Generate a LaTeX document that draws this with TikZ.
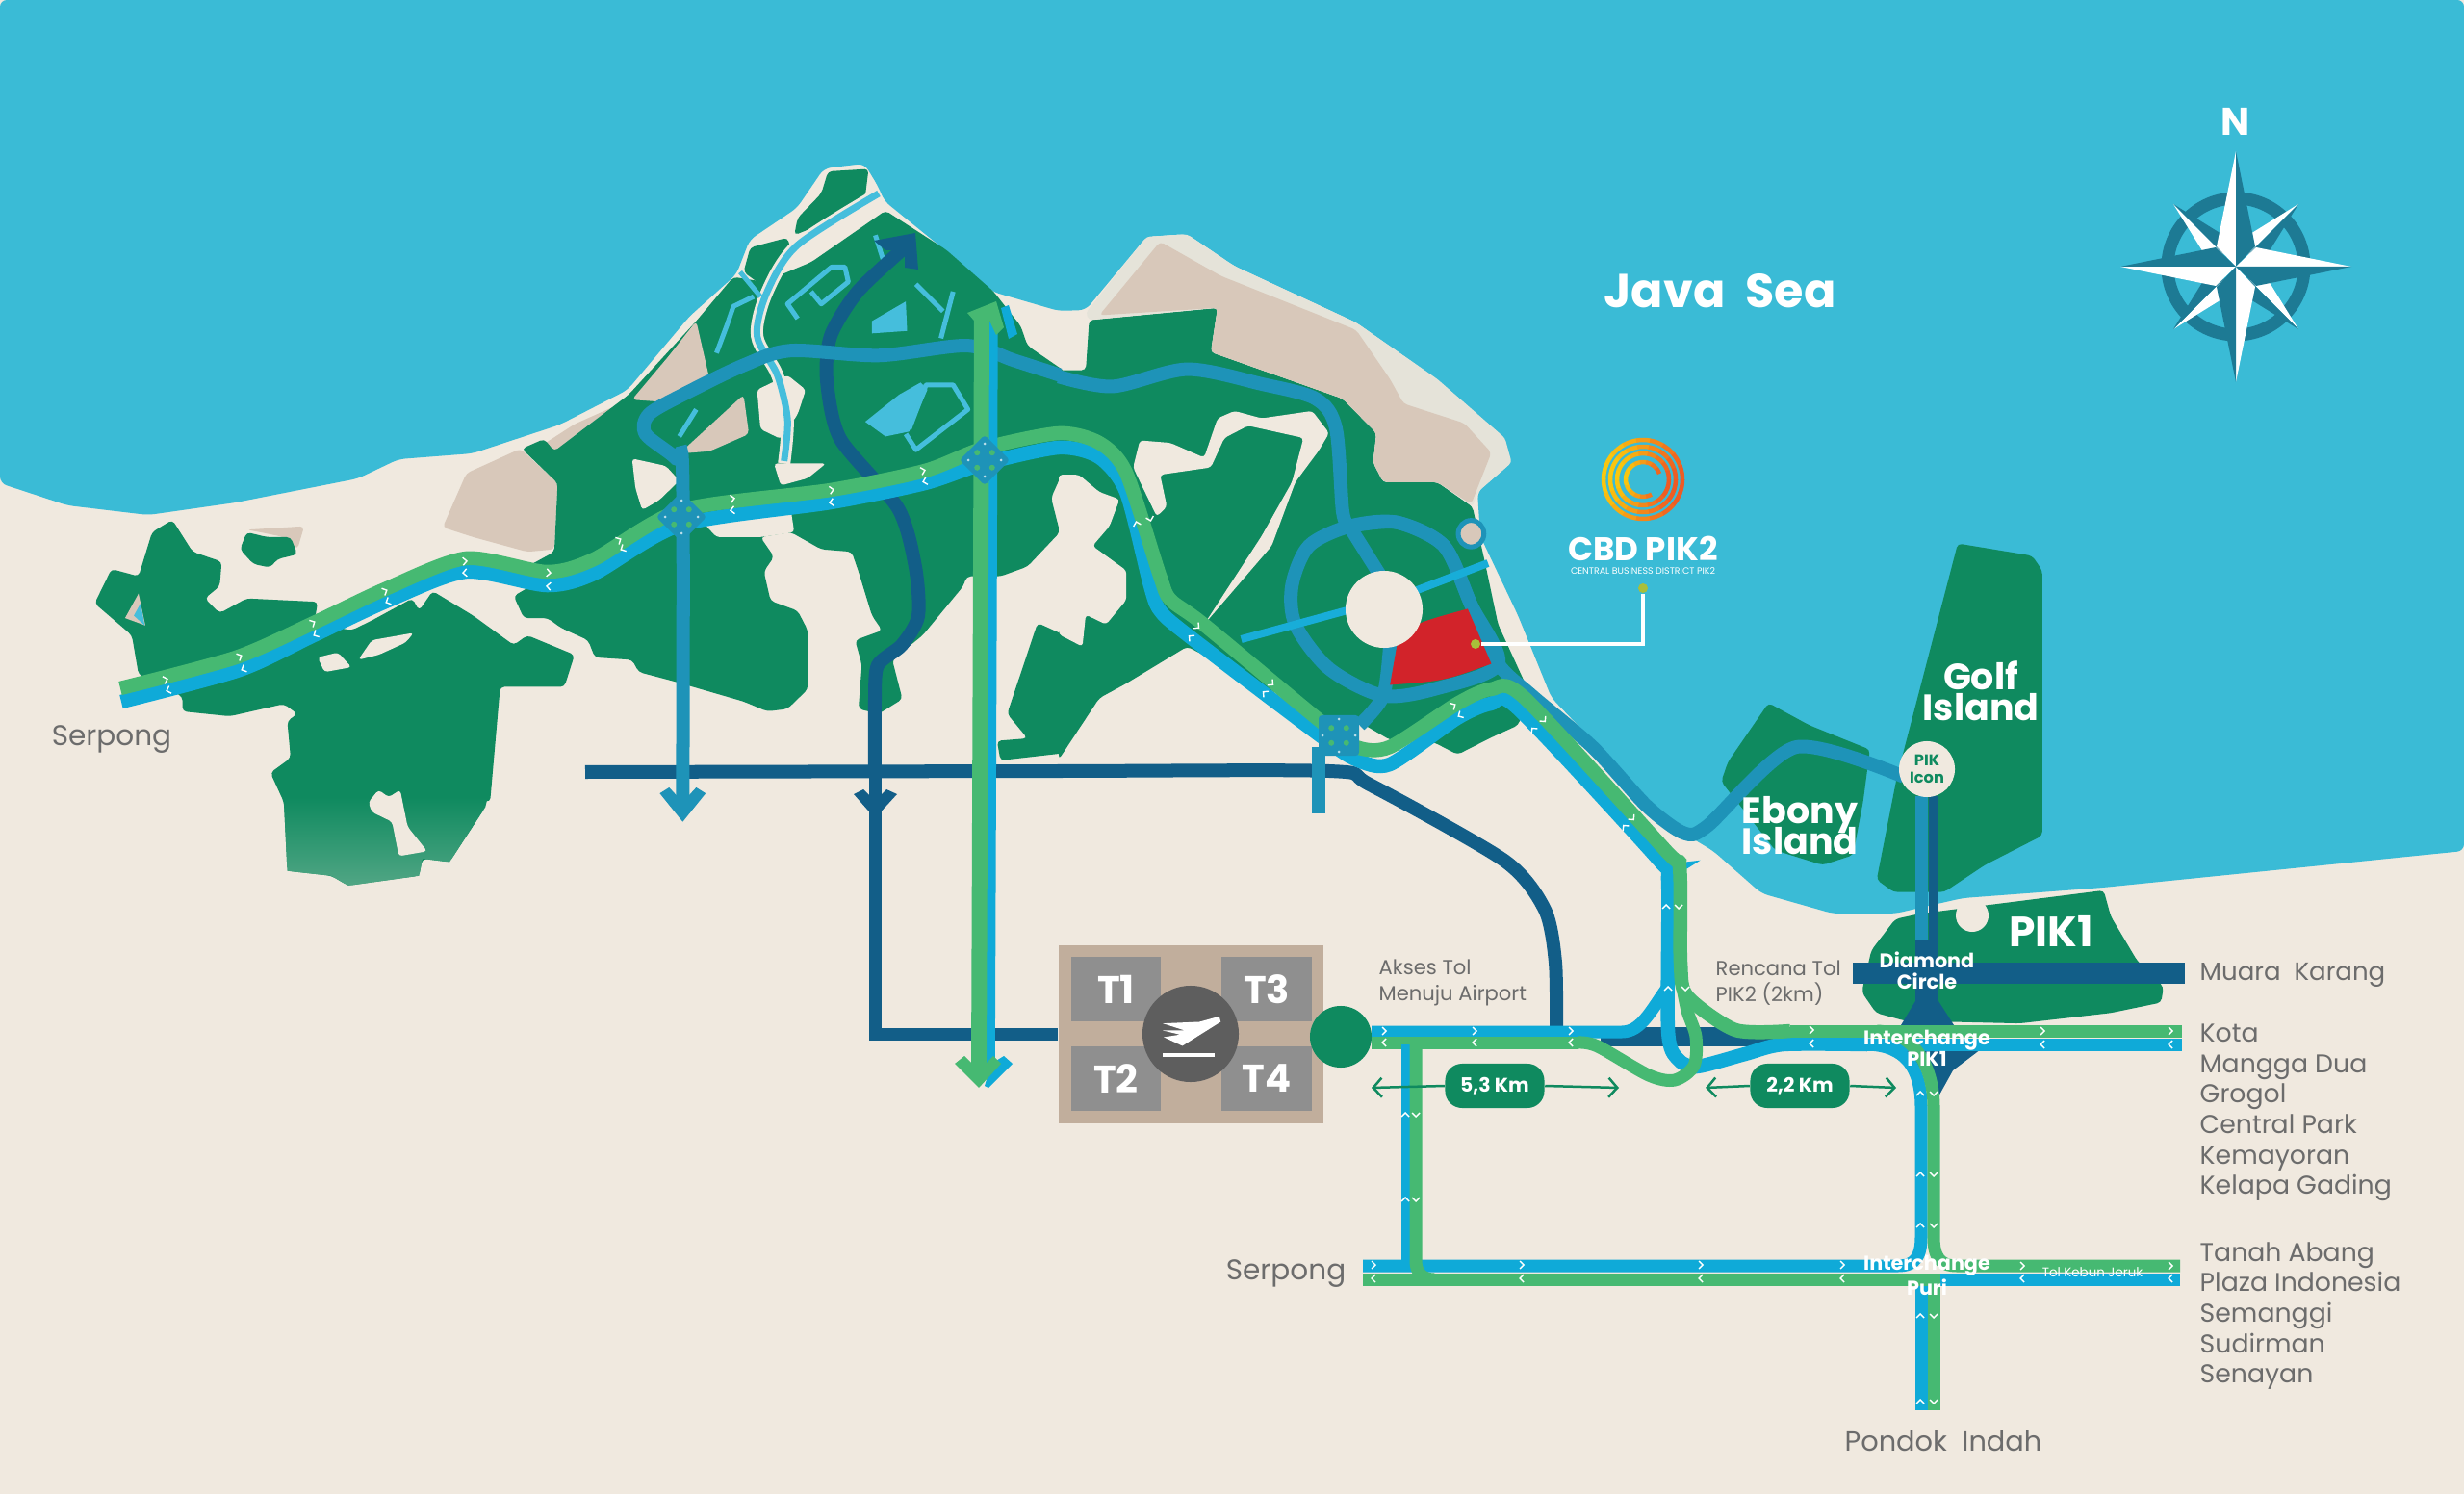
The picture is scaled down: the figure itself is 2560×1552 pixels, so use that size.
\documentclass[tikz,border=0pt]{standalone}
\usepackage{xcolor}
\usepackage{fontspec}
\setmainfont{Poppins}
\usetikzlibrary{arrows.meta}

\definecolor{seablue}{HTML}{3ABBD6}
\definecolor{sandbg}{HTML}{F0E9DF}
\definecolor{landgreen}{HTML}{0F8A5F}
\definecolor{tanland}{HTML}{D8C8BA}
\definecolor{shoreline}{HTML}{E5E3D9}
\definecolor{lanegreen}{HTML}{46B972}
\definecolor{laneblue}{HTML}{0FAAD8}
\definecolor{roadteal}{HTML}{1E93B8}
\definecolor{roadnavy}{HTML}{125E88}
\definecolor{streamblue}{HTML}{45BEDC}
\definecolor{labelgrey}{HTML}{6C6C6C}
\definecolor{boxtan}{HTML}{C1AE9C}
\definecolor{termgrey}{HTML}{8F8F8F}
\definecolor{planegrey}{HTML}{5E5E5E}
\definecolor{compassteal}{HTML}{1D7A94}
\definecolor{spotlime}{HTML}{A8BF3A}
\definecolor{plotred}{HTML}{D2232A}
\definecolor{logoorange}{HTML}{EE5A24}
\definecolor{logoyellow}{HTML}{F9C80E}

\tikzset{
  westframe/.style={shift={(0,150)},x=0.007015cm,y=-0.005102cm},
  eastframe/.style={shift={(1100,200)},x=0.007015cm,y=-0.005102cm},
  southframe/.style={shift={(1050,950)},x=0.005102cm,y=-0.003333cm},
  rightframe/.style={shift={(1780,700)},x=0.004974cm,y=-0.005422cm},
  land/.style={fill=landgreen,rounded corners=1.2pt},
  tan/.style={fill=tanland,rounded corners=1.2pt},
  sandpatch/.style={fill=sandbg,rounded corners=1pt},
  greenlane/.style={draw=lanegreen,line width=0.13cm},
  bluelane/.style={draw=laneblue,line width=0.13cm},
  tealroad/.style={draw=roadteal,line width=0.14cm},
  navyroad/.style={draw=roadnavy,line width=0.14cm},
  stream/.style={draw=streamblue,line width=0.05cm,line join=round},
  greylabel/.style={text=labelgrey,inner sep=0pt,font=\fontsize{7.6}{9}\selectfont,align=left},
  smalllabel/.style={text=labelgrey,inner sep=0pt,font=\fontsize{6}{7.7}\selectfont,align=left,anchor=west},
  whitebold/.style={text=white,inner sep=0pt,font=\bfseries\fontsize{10.8}{9.1}\selectfont,align=center},
  crosslabel/.style={text=white,inner sep=0pt,font=\bfseries\fontsize{5.9}{6.2}\selectfont,align=center},
  termbox/.style={fill=termgrey,text=white,inner sep=0pt,minimum width=0.93cm,minimum height=0.67cm,font=\bfseries\fontsize{11.4}{12}\selectfont},
  kmpill/.style={fill=landgreen,text=white,rounded corners=5pt,inner sep=0pt,minimum width=1.03cm,minimum height=0.46cm,font=\bfseries\fontsize{5.8}{7}\selectfont},
  kmarrow/.style={draw=landgreen,line width=0.025cm,-{Straight Barb[length=0.09cm,width=0.2cm]}},
  junctionbox/.style={fill=roadteal,inner sep=0pt,minimum size=0.37cm,rounded corners=1pt},
  chevron/.pic={\draw[white,line width=0.014cm] (-2,-4) -- (2,0) -- (-2,4);},
  junctiondots/.pic={\foreach \a in {0,90,180,270} {
      \fill[lanegreen] (\a+45:11) circle (3);
      \fill[white!70!roadteal] (\a:17) circle (1.5);}},
}

\begin{document}
\begin{tikzpicture}[x=0.01cm,y=-0.01cm]
\useasboundingbox (0,0) rectangle (2560,1552);
\fill[sandbg] (0,0) rectangle (2560,1552);

% sea
\fill[seablue,rounded corners=2pt] (0,0) -- (2560,0) -- (2560,884) -- (2185,922) -- (2039,933) -- (1969,949) -- (1904,949) -- (1830,928) -- (1780,884)
  -- (1745,863) -- (1612,725) -- (1577,639) -- (1538,557) -- (1535,511) -- (1570,481) -- (1563,455) -- (1493,394) -- (1409,335) -- (1282,276) -- (1233,243) -- (1191,246)
  -- (1128,322) -- (1100,323) -- (1031,303) -- (982,260) -- (919,209) -- (912,193) -- (898,170) -- (856,175) -- (828,216) -- (779,249) -- (765,285) -- (716,329)
  -- (652,405) -- (582,441) -- (491,471) -- (414,477) -- (372,497) -- (245,522) -- (154,535) -- (70,525) -- (0,502) -- cycle;

% land west of the peninsula
\begin{scope}[westframe]
\fill[land] (255,765) -- (285,830) -- (328,850) -- (325,900) -- (303,925) -- (325,955) -- (365,925) -- (470,932) -- (465,975) -- (520,990) -- (550,970) -- (610,925) -- (620,950) -- (640,910)
  -- (700,960) -- (760,1020) -- (780,1000) -- (850,1040) -- (835,1105) -- (740,1105) -- (725,1340) -- (695,1330) -- (718,1350) -- (665,1462) -- (625,1455) -- (620,1490) -- (515,1510) -- (490,1490) -- (425,1480)
  -- (420,1340) -- (400,1280) -- (430,1250) -- (425,1175) -- (440,1160) -- (420,1140) -- (340,1165) -- (270,1155) -- (270,1125) -- (205,1080) -- (195,1000) -- (140,935) -- (165,865) -- (205,880) -- (225,790) -- cycle;
\begin{scope}
\clip (420,1300) -- (420,1340) -- (425,1480) -- (490,1490) -- (515,1510) -- (620,1490) -- (625,1455) -- (665,1462) -- (718,1350) -- (727,1300) -- cycle;
\shade[top color=landgreen,bottom color=landgreen!70!sandbg] (400,1330) rectangle (740,1515);
\end{scope}
\fill[sandpatch] (470,1045) -- (500,1035) -- (520,1065) -- (480,1075) -- cycle;
\fill[sandpatch] (545,1340) -- (560,1315) -- (575,1330) -- (592,1315) -- (603,1390) -- (632,1440) -- (590,1450) -- (580,1380) -- (550,1360) -- cycle;
\fill[sandpatch] (550,1010) -- (612,995) -- (600,1015) -- (560,1040) -- (530,1050) -- cycle;
\fill[tan] (365,785) -- (450,778) -- (440,825) -- (420,800) -- (385,790) -- cycle;
\fill[land] (355,825) -- (365,790) -- (395,800) -- (430,800) -- (440,835) -- (410,845) -- (400,862) -- (375,855) -- cycle;
\fill[tanland] (185,965) -- (205,915) -- (215,980) -- cycle;
\fill[streamblue] (198,960) -- (208,935) -- (214,980) -- cycle;

% land of the peninsula, west half
\fill[tan] (655,780) -- (690,670) -- (770,620) -- (825,690) -- (820,825) -- (780,830) -- (700,800) -- cycle;
\fill[tan] (805,610) -- (850,570) -- (915,530) -- (910,560) -- (820,630) -- cycle;
\fill[land] (772,620) -- (805,600) -- (820,625) -- (930,510) -- (1030,360) -- (1085,270) -- (1130,280) -- (1200,240) -- (1310,135) -- (1400,215) -- (1470,300) -- (1510,370) -- (1520,410) -- (1575,462) -- (1575,640)
  -- (1568,680) -- (1555,720) -- (1568,790) -- (1520,860) -- (1480,880) -- (1430,880) -- (1425,900) -- (1365,1000) -- (1320,1050) -- (1335,1130) -- (1300,1160) -- (1270,1150) -- (1275,1060) -- (1265,1010) -- (1305,990)
  -- (1290,960) -- (1270,870) -- (1260,830) -- (1215,825) -- (1170,790) -- (1125,800) -- (1145,840) -- (1130,870) -- (1140,930) -- (1180,950) -- (1195,990) -- (1195,1110) -- (1165,1150) -- (1135,1155)
  -- (1100,1135) -- (1000,1095) -- (945,1075) -- (935,1050) -- (880,1045) -- (870,1010) -- (830,985) -- (810,965) -- (775,965) -- (760,920) -- (785,900) -- (780,860) -- (820,830) -- (825,690) -- cycle;
\fill[land] (1535,975) -- (1575,1000) -- (1575,1240) -- (1480,1255) -- (1475,1215) -- (1520,1210) -- (1490,1160) -- cycle;
\fill[tan] (935,520) -- (985,525) -- (1050,480) -- (1030,360) -- (990,430) -- cycle;
\fill[tan] (1005,630) -- (1100,510) -- (1108,590) -- (1050,625) -- cycle;
\fill[sandpatch] (935,640) -- (985,655) -- (1005,685) -- (975,725) -- (950,745) -- (940,700) -- cycle;
\fill[sandpatch] (1040,770) -- (1170,745) -- (1175,790) -- (1125,800) -- (1060,800) -- cycle;
\fill[sandpatch] (1145,650) -- (1222,650) -- (1195,680) -- (1155,695) -- cycle;
\fill[sandpatch] (1165,470) -- (1192,500) -- (1180,550) -- (1155,600) -- (1125,580) -- (1120,500) -- cycle;
\fill[land] (1225,55) -- (1285,50) -- (1280,105) -- (1220,160) -- (1175,185) -- (1180,150) -- (1215,100) -- cycle;
\fill[land] (1110,210) -- (1165,190) -- (1170,215) -- (1130,290) -- (1100,260) -- cycle;
\draw[sandbg,line width=0.13cm] plot[smooth] coordinates {(1300,100) (1180,205) (1135,300) (1120,390) (1150,470) (1165,560) (1160,650)};
\draw[streamblue,line width=0.07cm] plot[smooth] coordinates {(1300,100) (1180,205) (1135,300) (1120,390) (1150,470) (1165,560) (1160,645)};
\draw[stream] (1095,260) -- (1125,310);
\draw[stream] (1115,310) -- (1085,330) -- (1075,370) -- (1060,425);
\draw[stream] (1180,355) -- (1165,325) -- (1230,250) -- (1250,250) -- (1255,280) -- (1215,325) -- (1200,300);
\draw[stream] (1295,185) -- (1310,250);
\draw[stream] (1355,285) -- (1395,340);
\draw[stream] (1410,300) -- (1392,395);
\fill[streamblue] (1290,360) -- (1340,320) -- (1342,380) -- (1290,385) -- cycle;
\draw[stream] (1345,580) -- (1370,490) -- (1410,490) -- (1432,540) -- (1355,622) -- (1340,590);
\fill[streamblue] (1280,565) -- (1330,510) -- (1362,485) -- (1372,500) -- (1345,585) -- (1310,595) -- cycle;
\draw[stream] (1005,595) -- (1030,540);
\end{scope}

% land of the peninsula, east half
\begin{scope}[eastframe]
\fill[land] (0,362) -- (40,362) -- (45,260) -- (235,235) -- (225,325) -- (420,420) -- (470,490) -- (465,550) -- (480,590) -- (560,590) -- (612,640) -- (630,750) -- (650,880) -- (690,1000) -- (690,1040) -- (680,1085)
  -- (640,1110) -- (590,1145) -- (555,1120) -- (490,1115) -- (440,1075) -- (385,1065) -- (190,925) -- (100,1000) -- (60,1030) -- (0,1155) -- cycle;
\fill[sandpatch] (0,575) -- (30,575) -- (60,610) -- (90,625) -- (75,680) -- (50,720) -- (100,770) -- (100,830) -- (70,880) -- (40,860) -- (35,925) -- (0,900) -- cycle;
\fill[sandpatch] (120,505) -- (165,510) -- (215,540) -- (235,460) -- (260,445) -- (300,460) -- (375,445) -- (400,490) -- (385,525) -- (350,590) -- (315,720) -- (215,880) -- (300,700) -- (345,590) -- (362,500) -- (280,475) -- (245,500) -- (225,560) -- (150,575) -- (160,640) -- (145,660) -- (110,560) -- cycle;
\fill[shoreline,rounded corners=1pt] (40,245) -- (130,90) -- (190,85) -- (260,150) -- (440,265) -- (560,380) -- (660,500) -- (670,550) -- (620,610) -- (612,640) -- (560,590) -- (480,590) -- (465,550) -- (470,490) -- (420,420) -- (225,325) -- (235,235) -- (45,260) -- cycle;
\fill[tan] (60,250) -- (150,100) -- (240,170) -- (440,280) -- (490,380) -- (510,430) -- (600,470) -- (640,530) -- (620,600) -- (610,635) -- (560,590) -- (480,590) -- (465,550) -- (470,490) -- (420,420) -- (225,325) -- (235,235) -- cycle;
\fill[land] (1330,715) -- (1440,740) -- (1455,770) -- (1455,1310) -- (1370,1370) -- (1310,1425) -- (1235,1425) -- (1210,1400) -- (1240,1190) -- cycle;
\fill[land] (1050,1040) -- (1110,1085) -- (1200,1135) -- (1190,1240) -- (1175,1350) -- (1130,1370) -- (1060,1340) -- (980,1200) -- (990,1160) -- cycle;
\fill[fill=tanland,draw=roadteal,line width=0.05cm] (610,695) circle (19 and 27);
\end{scope}
\begin{scope}[rightframe]
\fill[land] (310,610) -- (330,530) -- (380,470) -- (430,460) -- (815,415) -- (830,465) -- (885,550) -- (940,600) -- (935,630) -- (830,650) -- (640,670) -- (400,665) -- (340,650) -- cycle;
\end{scope}

% navy roads
\draw[navyroad] plot[smooth,tension=.45] coordinates {(608,802) (1100,801) (1381,801) (1423,815) (1563,894) (1605,945) (1616,1000) (1617,1070)};
\draw[roadnavy,line width=0.2cm] (1663,1077) -- (1860,1077);
\fill[roadnavy] (1608,1066) rectangle (1640,1075);
\draw[roadnavy,line width=0.09cm] (2008,827) -- (2008,1000);
\fill[roadnavy] (1925,1000) rectangle (2270,1022);
\fill[roadnavy] (1990,976) -- (2012,976) -- (2014,1040) -- (2030,1065) -- (1975,1065) -- (1990,1040) -- cycle;
\fill[roadnavy] (1959,1090) -- (2058,1090) -- (2029,1112) -- (2014,1139) -- (1999,1112) -- cycle;
\draw[navyroad] plot[smooth,tension=.45] coordinates {(940,257) (891,303) (863,349) (859,395) (873,456) (933,528) (951,589) (954,640) (937,670) (912,691) (909,727) (909,800)};
\fill[roadnavy] (908,250) -- (951,242) -- (954,280) -- (940,278) -- (940,260) -- (920,260) -- cycle;
\node[fill=boxtan,minimum width=2.75cm,minimum height=1.85cm,inner sep=0pt] (tbox) at (1237.5,1074.5) {};
\draw[navyroad,line width=0.13cm] (909,800) |- (tbox.west);
\fill[roadnavy] (887,825) -- (897,820) -- (909,832) -- (921,820) -- (932,825) -- (909,850) -- cycle;

% teal roads
\begin{scope}[eastframe]
\draw[tealroad] plot[smooth,tension=.45] coordinates {(430,680) (500,672) (570,720) (610,840) (650,960) (700,1025) (790,1130) (870,1250) (925,1305) (960,1290) (1090,1130) (1250,1190)};
\draw[tealroad] plot[smooth cycle,tension=.5] coordinates {(430,680) (370,720) (345,800) (350,880) (400,970) (480,1025) (560,1010) (650,960) (610,840) (570,720) (500,672)};
\draw[tealroad] (430,680) -- (480,790);
\draw[tealroad] plot[smooth] coordinates {(490,920) (480,1025) (445,1085)};
\draw[tealroad] (385,1130) -- (385,1265);
\draw[tealroad] plot[smooth,tension=.5] coordinates {(0,375) (80,395) (190,360) (300,390) (380,420) (410,480) (420,650) (430,680)};
\draw[draw=laneblue!80!seablue,line width=0.08cm] (270,910) -- (430,850);
\draw[draw=laneblue!80!seablue,line width=0.08cm] (530,810) -- (635,755);
\fill[plotred] (605,848) -- (640,960) .. controls (570,995) .. (490,1003) -- (500,925) .. controls (520,880) .. (605,848) -- cycle;
\end{scope}
\begin{scope}[westframe]
\draw[tealroad] plot[smooth,tension=.5] coordinates {(1568,470) (1500,440) (1430,410) (1300,430) (1170,420) (1100,450) (1010,510) (960,550) (955,590) (1000,640) (1010,680) (1010,1340)};
\fill[roadteal] (976,1322) -- (990,1310) -- (1010,1340) -- (1030,1310) -- (1044,1322) -- (1010,1380) -- cycle;
\end{scope}
\draw[roadteal,line width=0.13cm] (1996,827) -- (1996,976);

% motorway along the coast
\draw[bluelane,line width=0.145cm] plot[smooth,tension=.45] coordinates {(126,729) (249,696) (326,660) (403,624) (484,594) (568,608) (617,596) (708,545) (863,522) (961,502) (1021,482) (1100,465) (1142,475) (1170,511) (1195,608) (1205,634) (1233,659) (1374,766) (1409,789) (1444,794) (1514,746) (1549,731) (1577,736) (1724,894) (1733,915) (1733,1070) (1743,1100) (1763,1108) (1813,1095) (1853,1085) (1940,1085)};
\draw[bluelane] (1940,1085) -- (2267,1085);
\draw[bluelane] (1425,1072) -- (1685,1072) .. controls (1705,1072) and (1715,1050) .. (1733,1025);
\draw[greenlane,line width=0.145cm] plot[smooth,tension=.45] coordinates {(125,715) (245,683) (326,647) (400,612) (484,580) (568,594) (617,581) (708,530) (863,509) (961,489) (1021,466) (1100,450) (1142,460) (1170,491) (1205,598) (1216,623) (1251,649) (1374,751) (1409,776) (1444,776) (1514,731) (1549,716) (1584,725) (1731,884) (1745,901) (1746,1000) (1753,1035) (1803,1070) (1860,1071)};
\draw[greenlane] (1860,1071) -- (2267,1071);
\draw[greenlane] plot[smooth,tension=.5] coordinates {(1640,1083) (1660,1087) (1713,1117) (1740,1122) (1760,1107) (1762,1077) (1753,1050) (1747,1020)};
\draw[greenlane] (1425,1083) -- (1640,1083);

% lanes to the terminal and the second toll road
\draw[draw=laneblue,line width=0.1cm] (1461,1085) -- (1461,1318);
\draw[bluelane] (1416,1315) -- (1972,1315) .. controls (1990,1315) and (1996,1305) .. (1996,1285) -- (1996,1150) .. controls (1996,1110) and (1980,1086) .. (1940,1085);
\draw[bluelane] (2265,1329) -- (1996,1329) -- (1996,1465);
\draw[greenlane] (1416,1329) -- (2009,1329) -- (2009,1465);
\draw[greenlane] (2265,1315) -- (2033,1315) .. controls (2015,1315) and (2009,1305) .. (2009,1285) -- (2009,1150) .. controls (2009,1110) and (1990,1072) .. (1950,1071);
\draw[greenlane] (1471,1085) -- (1471,1310) .. controls (1471,1322) and (1478,1329) .. (1490,1329);

% north south motorway
\draw[draw=laneblue,line width=0.095cm] (1032,335) -- (1029,1120);
\draw[draw=lanegreen,line width=0.16cm] (1020,330) -- (1017,1115);
\fill[laneblue] (1040,320) -- (1048,317) -- (1057,347) -- (1048,352) -- cycle;
\fill[lanegreen] (1005,325) -- (1035,313) -- (1043,340) -- (1035,348) -- (1028,333) -- (1012,333) -- cycle;
\fill[laneblue] (1043,1097) -- (1052,1105) -- (1027,1130) -- (1023,1128) -- (1030,1105) -- cycle;
\fill[lanegreen] (992,1105) -- (1002,1097) -- (1017,1112) -- (1032,1097) -- (1040,1105) -- (1017,1130) -- cycle;

% interchanges
\node[junctionbox,rotate=45] (junctionwest) at (708,537) {};
\pic at (junctionwest) {junctiondots};
\node[junctionbox,rotate=45] (junctionmid) at (1023,478) {};
\pic at (junctionmid) {junctiondots};
\node[junctionbox,minimum size=0.42cm] (junctioneast) at (1391,764) {};
\pic at (junctioneast) {junctiondots};

% direction marks
\foreach \x/\y/\rr in {172/706/18,249/682/25,325/647/28,400/614/25,483/583/5,570/595/-5,643/561/28,761/518/8,864/509/10,959/489/15,1195/539/-75,1244/651/-40,1321/710/-40,1510/733/30,1604/748/-50,1696/850/-50,1744/942/-90,1751/1027/-90,
  1438/1071/0,1532/1083/180,1438/1083/180,1532/1071/0,1632/1071/0,1632/1083/180,1882/1070/0,1882/1084/180,2122/1071/0,2122/1085/180,2255/1071/0,2255/1085/180,
  1427/1314/0,1427/1328/180,1581/1314/0,1581/1328/180,1767/1314/0,1767/1328/180,1914/1314/0,1914/1328/180,2101/1315/0,2101/1328/180,2255/1315/0,2255/1328/180}
  \pic[rotate=\rr] at (\x,\y) {chevron};
\foreach \x/\y/\rr in {175/717/198,253/695/205,328/659/208,403/625/205,483/595/185,570/609/175,647/570/208,761/530/188,864/522/190,961/500/195,1181/544/105,1237/662/140,1314/720/140,1517/743/210,1593/758/130,1688/859/130,1731/942/90,1733/1027/90}
  \pic[rotate=\rr] at (\x,\y) {chevron};
\foreach \y in {1158,1246} {
  \pic[rotate=90] at (1460,\y) {chevron};
  \pic[rotate=-90] at (1471,\y) {chevron};}
\foreach \y in {1136,1220,1273,1367,1456} {
  \pic[rotate=90] at (1995,\y) {chevron};
  \pic[rotate=-90] at (2009,\y) {chevron};}

% airport
\node[termbox] (tone) at (1159.5,1027.5) {T1};
\node[termbox] (tthree) at (1316,1027.5) {T3};
\node[termbox] (ttwo) at (1159.5,1120.5) {T2};
\node[termbox] (tfour) at (1316,1120.5) {T4};
\node[circle,fill=planegrey,minimum size=1cm,inner sep=0pt] (planehub) at (1237,1074) {};
\begin{scope}[southframe]
\fill[white] (425,318) -- (428,335) -- (350,410) -- (312,383) -- (345,375) -- (310,362) -- (355,362) -- (310,340) -- (385,335) -- cycle;
\fill[white] (310,432) rectangle (415,444);
\end{scope}
\node[circle,fill=landgreen,minimum size=0.64cm,inner sep=0pt] (airportgate) at (1393,1077) {};

% distances
\node[kmpill] (kmwest) at (1553,1128) {5,3 Km};
\node[kmpill] (kmeast) at (1870,1128) {2,2 Km};
\coordinate (kmwestl) at (1425,1130);
\coordinate (kmwestr) at (1682,1130);
\coordinate (kmeastl) at (1772,1130);
\coordinate (kmeastr) at (1970,1130);
\draw[kmarrow] (kmwest.west) -- (kmwestl);
\draw[kmarrow] (kmwest.east) -- (kmwestr);
\draw[kmarrow] (kmeast.west) -- (kmeastl);
\draw[kmarrow] (kmeast.east) -- (kmeastr);

% centres and labels on the islands
\node[circle,fill=sandbg,minimum size=0.8cm,inner sep=0pt] (cbdcircle) at (1438,633) {};
\node[circle,fill=sandbg,minimum size=0.34cm,inner sep=0pt] (pikdot) at (2049,951) {};
\node[circle,fill=sandbg,text=landgreen,minimum size=0.58cm,inner sep=0pt,align=center,font=\bfseries\fontsize{4.6}{4.9}\selectfont] (pikicon) at (2002,799) {PIK\\Icon};
\node[whitebold] (golf) at (2058,718) {Golf\\Island};
\node[whitebold] (ebony) at (1870,858) {Ebony\\[-2.8pt]Island};
\node[whitebold,font=\bfseries\fontsize{12.5}{13}\selectfont] (pikone) at (2131,967) {PIK1};
\node[whitebold,font=\bfseries\fontsize{14}{15}\selectfont] (javasea) at (1787,302) {Java\ \ Sea};
\node[crosslabel] (diamond) at (2002,1008) {Diamond\\Circle};
\node[crosslabel] (interpik) at (2002,1089) {Interchange\\PIK1};
\node[crosslabel] (interpuri) at (2002,1325) {Interchange\\Puri};
\node[text=white,inner sep=0pt,font=\fontsize{3.8}{4}\selectfont] (kebun) at (2174,1322) {Tol Kebun Jeruk};

% grey labels
\node[greylabel,font=\fontsize{8.4}{9}\selectfont] (serpongwest) at (116,768) {Serpong};
\node[greylabel,font=\fontsize{8.4}{9}\selectfont] (serpongsouth) at (1336,1323) {Serpong};
\node[smalllabel] (akses) at (1432,1021) {Akses Tol\\Menuju Airport};
\node[smalllabel] (rencana) at (1782,1021) {Rencana Tol\\PIK2 (2km)};
\node[greylabel,anchor=west,font=\fontsize{7.4}{9}\selectfont] (muara) at (2285,1013) {Muara\ \ Karang};
\node[greylabel,anchor=west] (kotalist) at (2285,1156) {Kota\\Mangga Dua\\Grogol\\Central Park\\Kemayoran\\Kelapa Gading};
\node[greylabel,anchor=west] (tanahlist) at (2285,1367) {Tanah Abang\\Plaza Indonesia\\Semanggi\\Sudirman\\Senayan};
\node[greylabel,font=\fontsize{8.2}{9}\selectfont] (pondok) at (2019,1497) {Pondok\ \ Indah};

% CBD logo and its pointer
\foreach \rad in {41,34,27} \foreach \a in {0,20,...,340} {
  \pgfmathsetmacro\mixv{50+50*cos(\a)}
  \draw[logoorange!\mixv!logoyellow,line width=0.045cm] (1707,498) ++(\a:\rad) arc (\a:\a+21:\rad);
}
\foreach \a in {60,80,...,320} {
  \pgfmathsetmacro\mixv{50+50*cos(\a)}
  \draw[logoorange!\mixv!logoyellow,line width=0.045cm] (1707,498) ++(\a:18) arc (\a:\a+21:18);
}
\node[text=white,inner sep=0pt,font=\bfseries\fontsize{9.7}{10}\selectfont] (cbdtitle) at (1707,570) {CBD PIK2};
\node[text=white,inner sep=0pt,font=\fontsize{2.7}{3}\selectfont] (cbdsub) at (1707,593) {CENTRAL BUSINESS DISTRICT PIK2};
\node[circle,fill=spotlime,minimum size=0.1cm,inner sep=0pt] (redspot) at (1533,669) {};
\node[circle,fill=spotlime,minimum size=0.1cm,inner sep=0pt] (cbdspot) at (1707,611) {};
\draw[white,line width=0.035cm] (redspot) -| (cbdspot);

% compass
\begin{scope}[shift={(2323,277)}]
\draw[compassteal,line width=0.13cm] (0,0) circle (71);
\foreach \a in {45,135,225,315} {
  \fill[white,rotate=\a] (0,-92) -- (-15,-28) -- (0,-18) -- cycle;
  \fill[compassteal,rotate=\a] (0,-92) -- (15,-28) -- (0,-18) -- cycle;
}
\foreach \a in {0,90,180,270} {
  \fill[white,rotate=\a] (0,-120) -- (-20,-21) -- (0,0) -- cycle;
  \fill[compassteal,rotate=\a] (0,-120) -- (20,-21) -- (0,0) -- cycle;
}
\end{scope}
\node[text=white,inner sep=0pt,font=\bfseries\fontsize{11.4}{12}\selectfont] (north) at (2323,126) {N};
\end{tikzpicture}
\end{document}
